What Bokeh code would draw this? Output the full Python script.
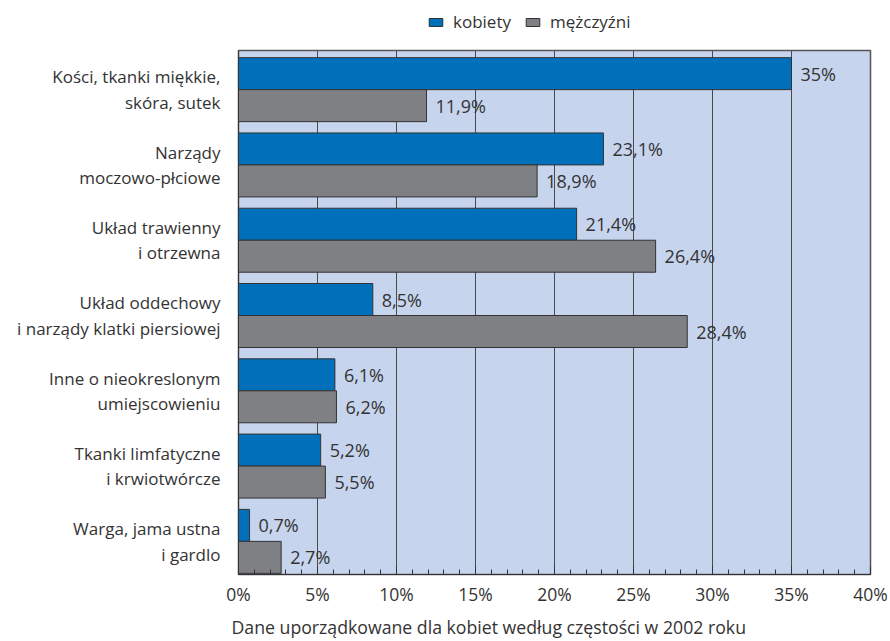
from bokeh.plotting import figure
from bokeh.layouts import column
from bokeh.models import (ColumnDataSource, FixedTicker, Range1d, Legend, LegendItem,
                          LabelSet, SingleIntervalTicker, Title)
from bokeh.core.properties import value
from bokeh.embed import file_html
from bokeh.resources import INLINE

categories = [
    "Kości, tkanki miękkie,\nskóra, sutek",
    "Narządy\nmoczowo-płciowe",
    "Układ trawienny\ni otrzewna",
    "Układ oddechowy\ni narządy klatki piersiowej",
    "Inne o nieokreslonym\numiejscowieniu",
    "Tkanki limfatyczne\ni krwiotwórcze",
    "Warga, jama ustna\ni gardlo",
]
kobiety = [35, 23.1, 21.4, 8.5, 6.1, 5.2, 0.7]
mezczyzni = [11.9, 18.9, 26.4, 28.4, 6.2, 5.5, 2.7]
series_names = ["kobiety", "mężczyźni"]
x_tick_values = [0, 5, 10, 15, 20, 25, 30, 35, 40]
x_label = "Dane uporządkowane dla kobiet według częstości w 2002 roku"

FONT = "Open Sans"
TXT = "#333333"
BLUE = "#0070ba"
GRAY = "#7f8084"
BG = "#c7d4ed"
EDGE = "#333333"

n = len(categories)
gap = 0.075
h = 0.425
bases = [n - i - 1 for i in range(n)]
y_blue = [b + gap + 1.5 * h for b in bases]
y_gray = [b + gap + 0.5 * h for b in bases]
y_lab = [b + 0.5 for b in bases]

def fmt(v):
    s = ("%d" % v) if float(v).is_integer() else ("%.1f" % v).replace(".", ",")
    return s + "%"

src_k = ColumnDataSource(dict(y=y_blue, v=kobiety, t=[fmt(v) for v in kobiety]))
src_m = ColumnDataSource(dict(y=y_gray, v=mezczyzni, t=[fmt(v) for v in mezczyzni]))

# ---------- legend strip ----------
lg = figure(width=890, height=48, output_backend="svg", toolbar_location=None,
            x_range=Range1d(0, 1), y_range=Range1d(0, 1),
            min_border=0, min_border_left=0, min_border_right=0,
            min_border_top=0, min_border_bottom=0)
lg.axis.visible = False
lg.grid.visible = False
lg.outline_line_color = None
lk = lg.hbar(y=[-5], left=[-5], right=[-4], height=1, fill_color=BLUE, line_color=EDGE, line_width=1)
lm = lg.hbar(y=[-5], left=[-5], right=[-4], height=1, fill_color=GRAY, line_color=EDGE, line_width=1)
legend = Legend(items=[LegendItem(label=series_names[0], renderers=[lk]),
                       LegendItem(label=series_names[1], renderers=[lm])],
                orientation="horizontal", location=(189, 15),
                glyph_width=17, glyph_height=10, spacing=13, label_standoff=9,
                label_text_font=FONT, label_text_font_size="17px",
                label_text_color=TXT, border_line_color=None,
                background_fill_alpha=0, padding=0, margin=0)
lg.add_layout(legend)

# ---------- main chart ----------
p = figure(frame_width=632, frame_height=524, output_backend="svg", toolbar_location=None,
           x_range=Range1d(0, 40), y_range=Range1d(0.06, 7.02),
           min_border_left=238, min_border_right=20, min_border_top=2, min_border_bottom=67)

p.background_fill_color = BG
p.outline_line_color = "#555555"
p.outline_line_width = 1.5

p.hbar(y="y", left=0, right="v", height=h, source=src_k,
       fill_color=BLUE, line_color=EDGE, line_width=1)
p.hbar(y="y", left=0, right="v", height=h, source=src_m,
       fill_color=GRAY, line_color=EDGE, line_width=1)

for src in (src_k, src_m):
    ls = LabelSet(x="v", y="y", text="t", source=src, x_offset=9,
                  text_baseline="middle", text_font=value(FONT), text_font_size=value("18px"),
                  text_color=TXT)
    p.add_layout(ls)

# x axis
p.xaxis.ticker = SingleIntervalTicker(interval=5, num_minor_ticks=5)
p.xaxis.major_label_overrides = {v: "%d%%" % v for v in x_tick_values}
p.xaxis.major_label_text_font = FONT
p.xaxis.major_label_text_font_size = "17.5px"
p.xaxis.major_label_text_color = TXT
p.xaxis.major_tick_in = 8
p.xaxis.major_tick_out = 0
p.xaxis.minor_tick_in = 5
p.xaxis.minor_tick_out = 0
p.xaxis.axis_line_color = EDGE
p.xaxis.major_tick_line_color = EDGE
p.xaxis.minor_tick_line_color = EDGE
p.xaxis.major_label_standoff = 7

# x axis title, left-shifted as in the reference
p.add_layout(Title(text=x_label, align="left", offset=-7, standoff=8,
                   text_font=FONT, text_font_size="17.7px", text_font_style="normal",
                   text_color=TXT), "below")

# y axis
p.yaxis.ticker = FixedTicker(ticks=y_lab)
p.yaxis.major_label_overrides = {y_lab[i]: categories[i] for i in range(n)}
p.yaxis.major_label_text_font = FONT
p.yaxis.major_label_text_font_size = "17px"
p.yaxis.major_label_text_color = TXT
p.yaxis.major_label_text_line_height = 1.1
p.yaxis.major_tick_in = 0
p.yaxis.major_tick_out = 0
p.yaxis.minor_tick_line_color = None
p.yaxis.axis_line_color = EDGE
p.yaxis.major_label_standoff = 18

p.xgrid.ticker = FixedTicker(ticks=x_tick_values)
p.xgrid.grid_line_color = "#4a4a4a"
p.xgrid.grid_line_width = 1
p.ygrid.grid_line_color = None

layout = column(lg, p, spacing=0)
open("out.html", "w").write(file_html(layout, INLINE))
